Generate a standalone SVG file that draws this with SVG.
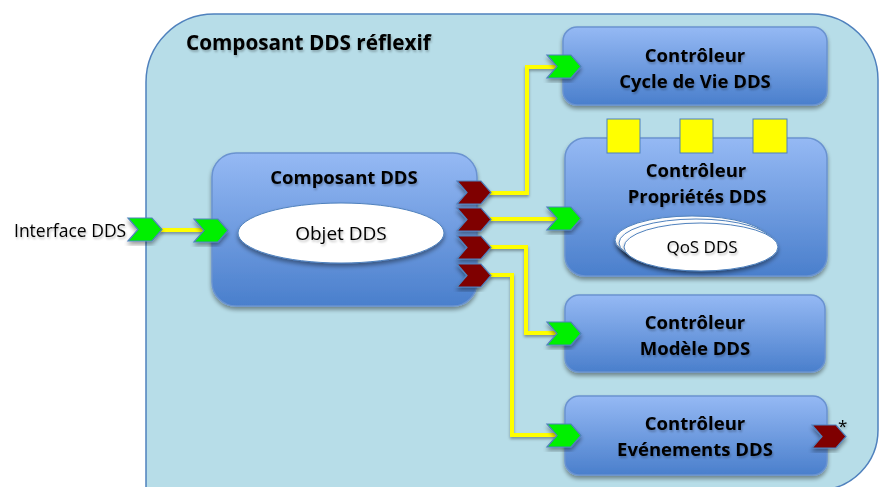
<svg xmlns="http://www.w3.org/2000/svg" width="879" height="487" viewBox="0 0 879 487">
<defs>
<linearGradient id="bg" x1="0" y1="0" x2="0" y2="1">
<stop offset="0" stop-color="#95b9f4"/>
<stop offset="1" stop-color="#4a7fcc"/>
</linearGradient>
<filter id="sh" x="-10%" y="-10%" width="125%" height="130%">
<feGaussianBlur in="SourceAlpha" stdDeviation="2"/>
<feOffset dx="0" dy="3" result="b"/>
<feComponentTransfer><feFuncA type="linear" slope="0.4"/></feComponentTransfer>
<feMerge><feMergeNode/><feMergeNode in="SourceGraphic"/></feMerge>
</filter>
<filter id="lsh" filterUnits="userSpaceOnUse" x="0" y="0" width="879" height="487">
<feGaussianBlur in="SourceAlpha" stdDeviation="1.5"/>
<feOffset dx="0" dy="2"/>
<feComponentTransfer><feFuncA type="linear" slope="0.35"/></feComponentTransfer>
<feMerge><feMergeNode/><feMergeNode in="SourceGraphic"/></feMerge>
</filter>
<filter id="tsh" x="-10%" y="-20%" width="120%" height="150%">
<feGaussianBlur in="SourceAlpha" stdDeviation="1"/>
<feOffset dx="1" dy="2"/>
<feComponentTransfer><feFuncA type="linear" slope="0.25"/></feComponentTransfer>
<feMerge><feMergeNode/><feMergeNode in="SourceGraphic"/></feMerge>
</filter>
<polygon id="chev" points="0,0 24,0 34,11.5 24,23 0,23 10,11.5"/>
</defs>
<style>
.box{fill:url(#bg);stroke:#6a93d0;stroke-width:1.5;filter:url(#sh)}
.t{font-family:"Open Sans","Liberation Sans",sans-serif;fill:#000;filter:url(#tsh)}
.b{font-weight:bold;font-size:18.5px;text-anchor:middle}
.n{font-size:19px;text-anchor:middle}
.g{fill:#00f000;stroke:#4f81bd;stroke-width:1.2;filter:url(#sh)}
.r{fill:#7f0000;stroke:#4f81bd;stroke-width:1.2;filter:url(#sh)}
.y{fill:none;stroke:#ffff00;stroke-width:4;filter:url(#lsh)}
.sq{fill:#ffff00;stroke:#4f81bd;stroke-width:1}
.el{fill:#fff;stroke:#4f81bd;stroke-width:1;filter:url(#sh)}
</style>
<rect width="879" height="487" fill="#fff"/>
<g id="container">
<path d="M146,82 A68,68 0 0 1 214,14 H812 A66,66 0 0 1 878,80 V430 A60,60 0 0 1 818,490 H146 Z" fill="#b7dde8" stroke="#4f81bd" stroke-width="1.5"/>
<text class="t" x="186" y="50" font-weight="bold" font-size="20.7px">Composant DDS réflexif</text>
</g>
<g id="connectors">
<path class="y" d="M160,230 H205"/>
<path class="y" d="M488,193 H527 V67 H558"/>
<path class="y" d="M488,219 H558"/>
<path class="y" d="M488,247 H526 V333 H558"/>
<path class="y" d="M488,275 H512 V435 H558"/>
</g>
<g id="interface">
<text class="t" x="14" y="237" font-size="17.5px">Interface DDS</text>
<use href="#chev" class="g" x="128" y="218"/>
</g>
<g id="composant">
<rect class="box" x="212" y="153" width="265" height="153" rx="24"/>
<text class="t b" x="344" y="184">Composant DDS</text>
<ellipse class="el" cx="341" cy="233" rx="103" ry="30"/>
<text class="t n" x="341" y="240">Objet DDS</text>
<use href="#chev" class="g" x="194" y="219"/>
<use href="#chev" class="r" x="457" y="181"/>
<use href="#chev" class="r" x="457" y="208"/>
<use href="#chev" class="r" x="457" y="236"/>
<use href="#chev" class="r" x="457" y="264"/>
</g>
<g id="cycle">
<rect class="box" x="563" y="27" width="264" height="78" rx="14"/>
<text class="t b" x="695" y="62">Contrôleur</text>
<text class="t b" x="695" y="88">Cycle de Vie DDS</text>
<use href="#chev" class="g" x="547" y="55"/>
</g>
<g id="proprietes">
<rect class="box" x="565" y="138" width="262" height="138" rx="20"/>
<rect class="sq" x="607" y="119" width="33" height="34"/>
<rect class="sq" x="680" y="119" width="33" height="34"/>
<rect class="sq" x="753" y="119" width="34" height="34"/>
<text class="t b" x="696" y="177">Contrôleur</text>
<text class="t b" x="697" y="203">Propriétés DDS</text>
<ellipse class="el" cx="692" cy="240" rx="77" ry="24"/>
<ellipse class="el" cx="696" cy="243" rx="77" ry="24"/>
<ellipse class="el" cx="701" cy="247" rx="77" ry="24"/>
<text class="t n" x="702" y="253" style="font-size:17px">QoS DDS</text>
<use href="#chev" class="g" x="547" y="207"/>
</g>
<g id="modele">
<rect class="box" x="565" y="295" width="260" height="77" rx="14"/>
<text class="t b" x="695" y="329">Contrôleur</text>
<text class="t b" x="695" y="355">Modèle DDS</text>
<use href="#chev" class="g" x="547" y="322"/>
</g>
<g id="evenements">
<rect class="box" x="565" y="396" width="262" height="79" rx="14"/>
<text class="t b" x="695" y="430">Contrôleur</text>
<text class="t b" x="695" y="456">Evénements DDS</text>
<use href="#chev" class="g" x="547" y="424"/>
<use href="#chev" class="r" x="812" y="425"/>
<text class="t" x="838" y="432" font-size="17px">*</text>
</g>
</svg>
